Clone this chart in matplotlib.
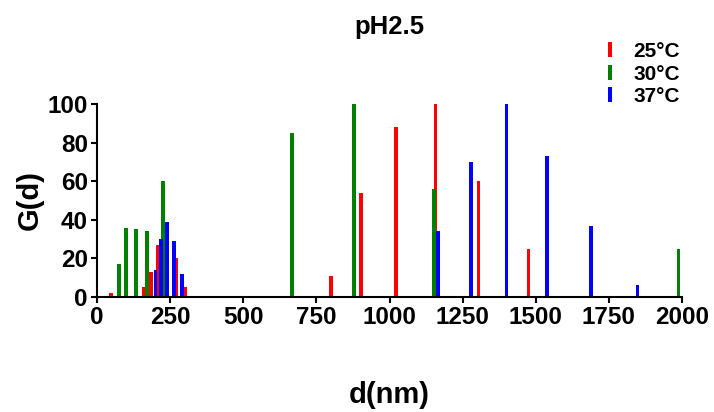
import matplotlib
matplotlib.use('Agg')
import matplotlib.pyplot as plt

plt.rcParams['font.family'] = ['Liberation Sans', 'DejaVu Sans']
plt.rcParams['font.weight'] = 'bold'

# size distribution peaks at pH 2.5 (diameter in nm, intensity G(d))
d_25 = [48, 159, 184, 207, 271, 301, 800, 903, 1021, 1157, 1304, 1475]
g_25 = [2, 5, 13, 27, 20, 5, 11, 54, 88, 100, 60, 25]

d_30 = [75, 100, 132, 170, 227, 668, 879, 1153, 1988]
g_30 = [17, 36, 35, 34, 60, 85, 100, 56, 25]

d_37 = [200, 220, 240, 264, 290, 1166, 1278, 1400, 1538, 1688, 1848]
g_37 = [14, 30, 39, 29, 12, 34, 70, 100, 73, 37, 6]

fig = plt.figure(figsize=(7.14, 4.12), dpi=100)
ax = fig.add_axes([97 / 714, 1 - 297 / 412, 585 / 714, 193 / 412])

w = 13
ax.bar(d_25, g_25, width=w, color='#ff0000', label='25°C')
ax.bar(d_30, g_30, width=w, color='#008000', label='30°C')
ax.bar(d_37, g_37, width=w, color='#0000ff', label='37°C')

ax.set_xlim(0, 2000)
ax.set_ylim(0, 100)
ax.set_xticks(range(0, 2001, 250))
ax.set_yticks(range(0, 101, 20))

for s in ['top', 'right']:
    ax.spines[s].set_visible(False)
for s in ['left', 'bottom']:
    ax.spines[s].set_linewidth(1.5)
ax.tick_params(width=1.5, length=4.5, labelsize=17.5, pad=2)

ax.set_xlabel('d(nm)', fontsize=21, fontweight='bold', va='center')
ax.xaxis.set_label_coords(0.5, (297 - 395) / 193)
ax.set_ylabel('G(d)', fontsize=21, fontweight='bold', va='center')
ax.yaxis.set_label_coords((30 - 97) / 585, 0.5)
fig.text(389 / 714, 1 - 27 / 412, 'pH2.5', fontsize=18.5, fontweight='bold',
         ha='center', va='center')

ax.legend(loc='upper left', bbox_to_anchor=(608 / 714, 1 - 42 / 412),
          bbox_transform=fig.transFigure, frameon=False, fontsize=15,
          handlelength=0.2, handleheight=0.7, handletextpad=1.0,
          labelspacing=0.17, borderpad=0, borderaxespad=0)

fig.savefig('out.png', dpi=100)
